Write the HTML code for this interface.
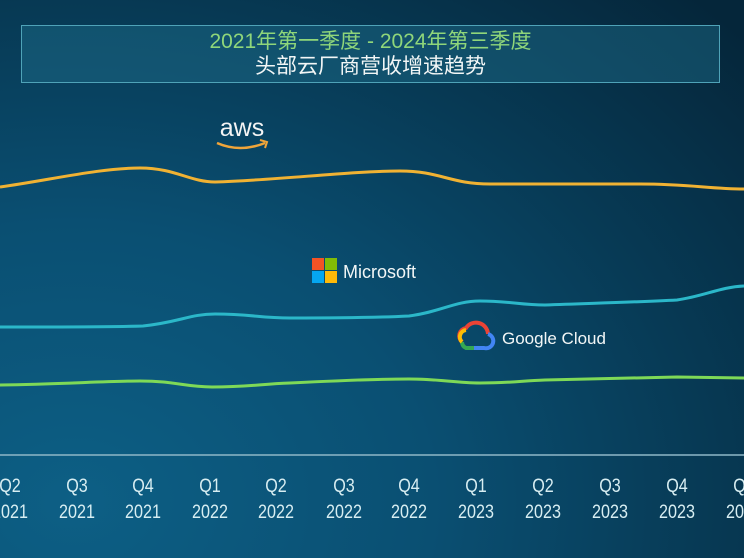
<!DOCTYPE html>
<html><head><meta charset="utf-8"><style>
html,body{margin:0;padding:0;}
body{width:744px;height:558px;overflow:hidden;position:relative;
background:radial-gradient(ellipse 900px 700px at 10% 90%,#0d5f85 0%,#0a4f72 40%,#073a55 70%,#05263a 100%);
font-family:"Liberation Sans","Noto Sans CJK SC",sans-serif;}
.box{position:absolute;left:21px;top:25px;width:697px;height:56px;border:1px solid #4fa3b8;background:rgba(30,110,140,0.45);}
.t1{position:absolute;left:0;width:100%;top:4px;text-align:center;color:#8fd67a;font-size:21px;line-height:24px;}
.t2{position:absolute;left:0;width:100%;top:29px;text-align:center;color:#f2f6f6;font-size:21px;line-height:24px;}
.lab{position:absolute;color:#d8eef2;font-size:19px;line-height:26px;text-align:center;width:60px;transform:scaleX(0.85);}
svg{position:absolute;left:0;top:0;}
</style></head><body>
<div class="box"><div class="t1">2021年第一季度 - 2024年第三季度</div><div class="t2">头部云厂商营收增速趋势</div></div>
<svg width="744" height="558">
<line x1="0" y1="455" x2="744" y2="455" stroke="#8fb8c8" stroke-width="1.5"/>
<path d="M0,187 C50,180 100,168 140,168 C175,168 190,182 215,182 C280,180 350,171 400,171 C440,171 450,184 490,184 L640,184 C690,184 710,189 744,189" fill="none" stroke="#f0b233" stroke-width="3"/>
<path d="M0,327 C60,327 110,327 143,326 C180,322 190,314 215,314 C250,314 260,318 290,318 C330,318 370,318 409,316 C440,312 455,301 480,301 C510,301 520,305 545,305 C600,303 640,302 677,300 C705,296 720,287 744,286" fill="none" stroke="#2bb7c9" stroke-width="3"/>
<path d="M0,385 C60,384 110,381 140,381 C175,381 185,387 212,387 C250,387 260,384 290,383 C330,381 370,379 409,379 C440,379 455,383 480,383 C510,383 520,381 545,380 C600,379 640,378 677,377 L744,378" fill="none" stroke="#7ed957" stroke-width="3"/>
<text x="242" y="136" fill="#f4f4f4" font-family="Liberation Sans,sans-serif" font-size="25" text-anchor="middle">aws</text>
<path d="M217,143 Q240,153 265,143" fill="none" stroke="#f0a53a" stroke-width="2.5"/>
<path d="M260,140 L267,142 L265,148" fill="none" stroke="#f0a53a" stroke-width="2"/>
<rect x="312" y="258" width="12" height="12" fill="#f35325"/>
<rect x="325" y="258" width="12" height="12" fill="#81bc06"/>
<rect x="312" y="271" width="12" height="12" fill="#05a6f0"/>
<rect x="325" y="271" width="12" height="12" fill="#ffba08"/>
<text x="343" y="278" fill="#f2f6f6" font-family="Liberation Sans,sans-serif" font-size="18">Microsoft</text>
<path d="M462,342 A8,8 0 0 1 466,328 A12,12 0 0 1 488,334" fill="none" stroke="#ea4335" stroke-width="4"/>
<path d="M488,334 A7,7 0 0 1 484,348 L474,348" fill="none" stroke="#4285f4" stroke-width="4"/>
<path d="M474,348 L466,348 A7,7 0 0 1 462,342" fill="none" stroke="#34a853" stroke-width="4"/>
<path d="M462,342 A7,7 0 0 1 466,330" fill="none" stroke="#fbbc04" stroke-width="4"/>
<text x="502" y="344" fill="#f2f6f6" font-family="Liberation Sans,sans-serif" font-size="17">Google Cloud</text>
</svg>
<div class="lab" style="left:-20px;top:474px">Q2<br>2021</div>
<div class="lab" style="left:47px;top:474px">Q3<br>2021</div>
<div class="lab" style="left:113px;top:474px">Q4<br>2021</div>
<div class="lab" style="left:180px;top:474px">Q1<br>2022</div>
<div class="lab" style="left:246px;top:474px">Q2<br>2022</div>
<div class="lab" style="left:314px;top:474px">Q3<br>2022</div>
<div class="lab" style="left:379px;top:474px">Q4<br>2022</div>
<div class="lab" style="left:446px;top:474px">Q1<br>2023</div>
<div class="lab" style="left:513px;top:474px">Q2<br>2023</div>
<div class="lab" style="left:580px;top:474px">Q3<br>2023</div>
<div class="lab" style="left:647px;top:474px">Q4<br>2023</div>
<div class="lab" style="left:714px;top:474px">Q1<br>2024</div>
</body></html>
